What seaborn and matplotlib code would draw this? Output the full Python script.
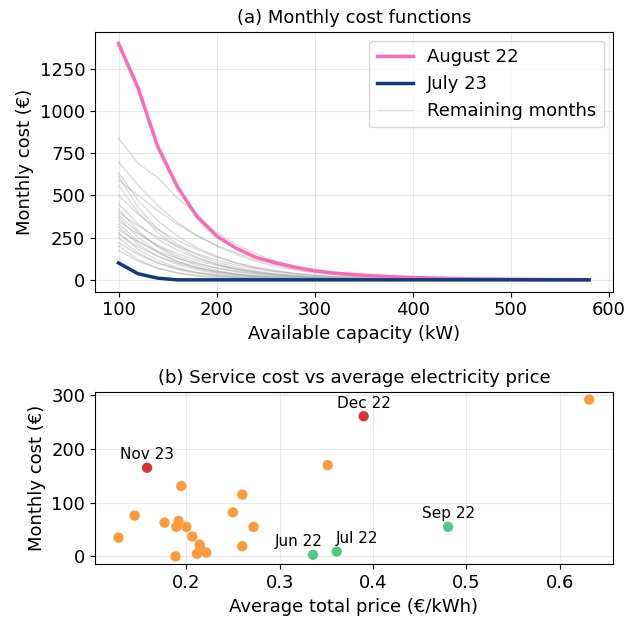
import matplotlib
matplotlib.use("Agg")
import matplotlib.pyplot as plt
from matplotlib.ticker import MultipleLocator
import seaborn as sns
import pandas as pd

plt.rcParams["font.family"] = ["DejaVu Sans"]
plt.rcParams["font.size"] = 13

# ---------------- data: (a) monthly cost functions ----------------
capacity = [100, 120, 140, 160, 180, 200, 220, 240, 260, 280, 300, 320, 340,
            360, 380, 400, 420, 440, 460, 480, 500, 520, 540, 560, 580]

august_22 = [1400, 1136, 790, 552, 375, 260, 187, 134, 101, 75, 54, 40, 31,
             24, 18, 14, 11, 8, 6, 5, 4, 3, 2, 2, 1]
july_23 = [100, 36, 10, 0, 0, 0, 0, 0, 0, 0, 0, 0, 0,
           0, 0, 0, 0, 0, 0, 0, 0, 0, 0, 0, 0]

remaining_months = [
    [839, 690, 605, 485, 385, 280, 210, 155, 112, 80, 57, 40, 28, 20, 14, 10, 7, 5, 3, 2, 2, 1, 1, 0, 0],
    [700, 560, 440, 340, 265, 200, 150, 110, 80, 58, 42, 30, 21, 15, 10, 7, 5, 3, 2, 1, 1, 0, 0, 0, 0],
    [635, 470, 350, 260, 190, 140, 100, 72, 52, 37, 26, 18, 12, 8, 5, 3, 2, 1, 1, 0, 0, 0, 0, 0, 0],
    [615, 430, 300, 210, 150, 105, 74, 52, 36, 25, 17, 12, 8, 5, 3, 2, 1, 1, 0, 0, 0, 0, 0, 0, 0],
    [590, 500, 410, 330, 260, 205, 160, 120, 90, 65, 47, 33, 23, 16, 11, 7, 5, 3, 2, 1, 1, 0, 0, 0, 0],
    [560, 400, 280, 195, 135, 92, 62, 42, 28, 19, 12, 8, 5, 3, 2, 1, 1, 0, 0, 0, 0, 0, 0, 0, 0],
    [500, 390, 300, 235, 180, 135, 100, 74, 54, 39, 28, 20, 14, 10, 7, 5, 3, 2, 1, 1, 0, 0, 0, 0, 0],
    [450, 330, 240, 175, 128, 92, 66, 47, 33, 23, 16, 11, 7, 5, 3, 2, 1, 1, 0, 0, 0, 0, 0, 0, 0],
    [420, 290, 195, 130, 86, 56, 36, 23, 15, 9, 6, 4, 2, 1, 1, 0, 0, 0, 0, 0, 0, 0, 0, 0, 0],
    [400, 320, 255, 200, 155, 118, 88, 65, 47, 34, 24, 17, 12, 8, 5, 3, 2, 1, 1, 0, 0, 0, 0, 0, 0],
    [385, 280, 200, 142, 100, 70, 48, 33, 22, 15, 10, 6, 4, 2, 1, 1, 0, 0, 0, 0, 0, 0, 0, 0, 0],
    [370, 250, 165, 108, 70, 45, 29, 18, 11, 7, 4, 2, 1, 1, 0, 0, 0, 0, 0, 0, 0, 0, 0, 0, 0],
    [350, 270, 205, 155, 115, 85, 62, 45, 32, 22, 15, 10, 7, 4, 3, 2, 1, 0, 0, 0, 0, 0, 0, 0, 0],
    [330, 230, 160, 110, 75, 50, 33, 22, 14, 9, 6, 4, 2, 1, 0, 0, 0, 0, 0, 0, 0, 0, 0, 0, 0],
    [315, 210, 140, 92, 60, 38, 24, 15, 9, 5, 3, 2, 1, 0, 0, 0, 0, 0, 0, 0, 0, 0, 0, 0, 0],
    [295, 225, 170, 128, 95, 70, 51, 37, 26, 18, 12, 8, 5, 3, 2, 1, 0, 0, 0, 0, 0, 0, 0, 0, 0],
    [280, 180, 115, 72, 44, 27, 16, 9, 5, 3, 2, 1, 0, 0, 0, 0, 0, 0, 0, 0, 0, 0, 0, 0, 0],
    [270, 195, 140, 100, 70, 48, 33, 22, 15, 10, 6, 4, 2, 1, 0, 0, 0, 0, 0, 0, 0, 0, 0, 0, 0],
    [250, 160, 100, 62, 38, 23, 14, 8, 5, 3, 1, 0, 0, 0, 0, 0, 0, 0, 0, 0, 0, 0, 0, 0, 0],
    [220, 150, 100, 66, 43, 28, 18, 11, 7, 4, 2, 1, 0, 0, 0, 0, 0, 0, 0, 0, 0, 0, 0, 0, 0],
    [200, 120, 70, 40, 22, 12, 6, 3, 1, 0, 0, 0, 0, 0, 0, 0, 0, 0, 0, 0, 0, 0, 0, 0, 0],
    [175, 110, 68, 42, 26, 16, 10, 6, 3, 2, 1, 0, 0, 0, 0, 0, 0, 0, 0, 0, 0, 0, 0, 0, 0],
]

# ---------------- data: (b) service cost vs average price ----------------
avg_price = [0.1580, 0.1946, 0.1446, 0.1274, 0.1767, 0.1917, 0.1893, 0.2000,
             0.2064, 0.2143, 0.2114, 0.2214, 0.1885, 0.2499, 0.2600, 0.2721,
             0.2600, 0.3514, 0.6315, 0.3900, 0.4804, 0.3357, 0.3611, 0.2150]
service_cost = [165, 131, 76, 35, 63, 66, 55, 55,
                37, 22, 5, 7, 0, 82, 115, 55,
                19, 170, 292, 261, 55, 3, 9, 14]
category = ["high", "normal", "normal", "normal", "normal", "normal", "normal", "normal",
            "normal", "normal", "normal", "normal", "normal", "normal", "normal", "normal",
            "normal", "normal", "normal", "high", "low", "low", "low", "normal"]
point_label = ["Nov 23", "", "", "", "", "", "", "",
               "", "", "", "", "", "", "", "",
               "", "", "", "Dec 22", "Sep 22", "Jun 22", "Jul 22", ""]
label_offset = {"Nov 23": (0, 4), "Dec 22": (0, 4), "Sep 22": (0, 4),
                "Jun 22": (-10.5, 4), "Jul 22": (15, 4)}

PINK = "#ff69b4"
NAVY = "#0b3c7e"
GREY = "#9a9a9a"
palette = {"normal": "#fd9a3c", "high": "#d93434", "low": "#4fca86"}

# ---------------- figure ----------------
fig = plt.figure(figsize=(6.4, 6.19), dpi=100)
ax1 = fig.add_axes([0.1484, 0.5288, 0.8089, 0.4200])
ax2 = fig.add_axes([0.1484, 0.0884, 0.8089, 0.2788])

# (a)
for i, vals in enumerate(remaining_months):
    df = pd.DataFrame({"capacity": capacity, "cost": vals})
    sns.lineplot(data=df, x="capacity", y="cost", ax=ax1, color=GREY,
                 alpha=0.35, linewidth=1,
                 label="Remaining months" if i == 0 else None, legend=False)
sns.lineplot(x=capacity, y=august_22, ax=ax1, color=PINK, linewidth=2.5,
             label="August 22", legend=False)
sns.lineplot(x=capacity, y=july_23, ax=ax1, color=NAVY, linewidth=2.5,
             label="July 23", legend=False)

handles, labels = ax1.get_legend_handles_labels()
order = [labels.index("August 22"), labels.index("July 23"), labels.index("Remaining months")]
ax1.legend([handles[k] for k in order], [labels[k] for k in order], loc="upper right")

ax1.set_title("(a) Monthly cost functions", fontsize=13)
ax1.set_xlabel("Available capacity (kW)")
ax1.set_ylabel("Monthly cost (€)")
ax1.xaxis.set_major_locator(MultipleLocator(100))
ax1.yaxis.set_major_locator(MultipleLocator(250))
ax1.grid(True, alpha=0.3)

# (b)
df2 = pd.DataFrame({"price": avg_price, "cost": service_cost,
                    "category": category, "label": point_label})
sns.scatterplot(data=df2, x="price", y="cost", hue="category", palette=palette,
                s=55, linewidth=0, ax=ax2, legend=False, zorder=3)
for px, py, lab in zip(avg_price, service_cost, point_label):
    if lab:
        ax2.annotate(lab, (px, py), xytext=label_offset[lab],
                     textcoords="offset points", ha="center", va="bottom",
                     fontsize=11)

ax2.set_title("(b) Service cost vs average electricity price", fontsize=13)
ax2.set_xlabel("Average total price (€/kWh)")
ax2.set_ylabel("Monthly cost (€)")
ax2.xaxis.set_major_locator(MultipleLocator(0.1))
ax2.yaxis.set_major_locator(MultipleLocator(100))
ax2.grid(True, alpha=0.3)

fig.savefig("out.png", dpi=100)
